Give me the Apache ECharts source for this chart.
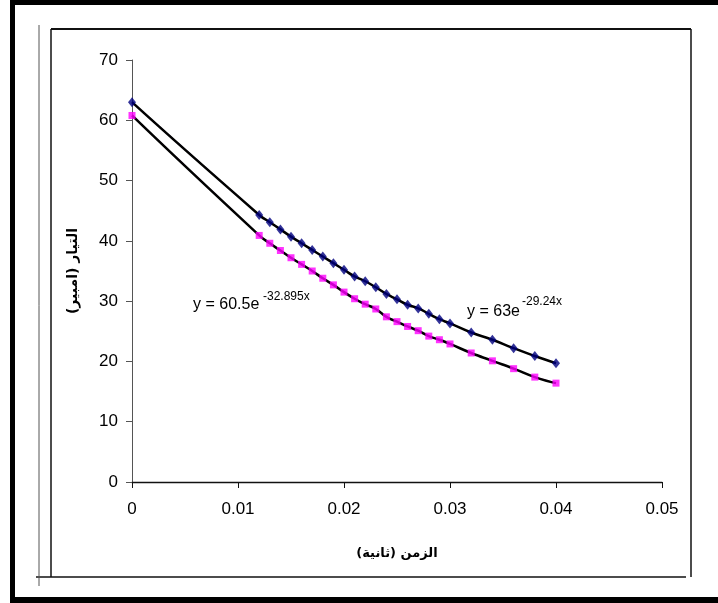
<!DOCTYPE html>
<html>
<head>
<meta charset="utf-8">
<script src="https://cdn.jsdelivr.net/npm/echarts@6/dist/echarts.min.js"></script>
<style>
  html, body { margin: 0; padding: 0; background: #fff; }
  #chart { width: 718px; height: 603px; }
</style>
</head>
<body>
<div id="chart"></div>
<script>
// time (s)
const timeValues = [0, 0.012, 0.013, 0.014, 0.015, 0.016, 0.017, 0.018, 0.019, 0.020,
  0.021, 0.022, 0.023, 0.024, 0.025, 0.026, 0.027, 0.028, 0.029, 0.030,
  0.032, 0.034, 0.036, 0.038, 0.040];
// current (A), diamonds
const currentA = [63.0, 44.3, 43.1, 41.9, 40.7, 39.6, 38.5, 37.4, 36.3, 35.2,
  34.1, 33.3, 32.3, 31.2, 30.3, 29.4, 28.8, 27.9, 27.0, 26.3,
  24.8, 23.6, 22.2, 20.9, 19.7];
// current (A), squares
const currentB = [60.8, 40.9, 39.6, 38.4, 37.2, 36.1, 35.0, 33.8, 32.7, 31.5,
  30.4, 29.5, 28.7, 27.4, 26.6, 25.8, 25.1, 24.2, 23.6, 22.9,
  21.4, 20.1, 18.8, 17.4, 16.4];
const xTicks = [0, 0.01, 0.02, 0.03, 0.04, 0.05];
const yTicks = [0, 10, 20, 30, 40, 50, 60, 70];
const equationA = { main: 'y = 63e', sup: '-29.24x' };
const equationB = { main: 'y = 60.5e', sup: '-32.895x' };

const pairsA = timeValues.map((t, i) => [t, currentA[i]]);
const pairsB = timeValues.map((t, i) => [t, currentB[i]]);

const font = '"Liberation Sans", Arial, sans-serif';
const arabicFont = '"DejaVu Sans", "Liberation Sans", sans-serif';

const chart = echarts.init(document.getElementById('chart'));

const option = {
  animation: false,
  backgroundColor: '#fff',
  grid: { left: 132, right: 56, top: 60, bottom: 121 },
  xAxis: {
    type: 'value',
    min: xTicks[0],
    max: xTicks[xTicks.length - 1],
    interval: 0.01,
    name: 'الزمن (ثانية)',
    nameLocation: 'middle',
    nameGap: 65,
    nameTextStyle: { fontFamily: arabicFont, fontWeight: 'bold', fontSize: 13, color: '#000' },
    axisLine: { lineStyle: { color: '#111', width: 1.3 } },
    axisTick: { show: true, inside: false, length: 6, lineStyle: { color: '#111' } },
    axisLabel: { margin: 19, fontFamily: font, fontSize: 17, color: '#000' },
    splitLine: { show: false }
  },
  yAxis: {
    type: 'value',
    min: yTicks[0],
    max: yTicks[yTicks.length - 1],
    interval: 10,
    name: 'التيار (امبير)',
    nameLocation: 'middle',
    nameGap: 52,
    nameTextStyle: { fontFamily: arabicFont, fontWeight: 'bold', fontSize: 14, color: '#000' },
    axisLine: { show: true, lineStyle: { color: '#555', width: 1 } },
    axisTick: { show: true, length: 6, lineStyle: { color: '#555' } },
    axisLabel: { margin: 14, fontFamily: font, fontSize: 17, color: '#000' },
    splitLine: { show: false }
  },
  series: [
    {
      name: 'lineA',
      type: 'line',
      data: pairsA,
      symbol: 'none',
      lineStyle: { color: '#000080', width: 1 },
      z: 1
    },
    {
      name: 'lineB',
      type: 'line',
      data: pairsB,
      symbol: 'none',
      lineStyle: { color: '#ff00ff', width: 1 },
      z: 1
    },
    // black trend lines through the same points
    {
      name: 'trendA',
      type: 'line',
      data: pairsA,
      smooth: 0.6,
      symbol: 'none',
      lineStyle: { color: '#000', width: 2.5 },
      z: 2
    },
    {
      name: 'trendB',
      type: 'line',
      data: pairsB,
      smooth: 0.6,
      symbol: 'none',
      lineStyle: { color: '#000', width: 2.5 },
      z: 2
    },
    {
      name: 'pointsA',
      type: 'scatter',
      data: pairsA,
      symbol: 'diamond',
      symbolSize: [8, 10],
      itemStyle: { color: '#000080' },
      z: 4
    },
    {
      name: 'pointsB',
      type: 'scatter',
      data: pairsB,
      symbol: 'rect',
      symbolSize: 7,
      itemStyle: { color: '#ff00ff' },
      z: 4
    }
  ],
  graphic: [
    // outer frame (left, top, bottom)
    { type: 'rect', shape: { x: 10, y: 0, width: 5, height: 603 }, style: { fill: '#000' } },
    { type: 'rect', shape: { x: 10, y: 0, width: 708, height: 5 }, style: { fill: '#000' } },
    { type: 'rect', shape: { x: 10, y: 597, width: 708, height: 6 }, style: { fill: '#000' } },
    // inner chart border
    { type: 'line', shape: { x1: 51, y1: 29, x2: 691, y2: 29 }, style: { stroke: '#111', lineWidth: 2 } },
    { type: 'line', shape: { x1: 51, y1: 29, x2: 51, y2: 577 }, style: { stroke: '#111', lineWidth: 1.5 } },
    { type: 'line', shape: { x1: 691, y1: 29, x2: 691, y2: 577 }, style: { stroke: '#111', lineWidth: 1.5 } },
    { type: 'line', shape: { x1: 36, y1: 577, x2: 686, y2: 577 }, style: { stroke: '#111', lineWidth: 1.5 } },
    { type: 'line', shape: { x1: 39, y1: 25, x2: 39, y2: 586 }, style: { stroke: '#555', lineWidth: 1 } },
    // trendline equations
    { type: 'text', x: 193, y: 305, style: { text: equationB.main, font: '16px ' + font, fill: '#000', verticalAlign: 'middle' } },
    { type: 'text', x: 263, y: 297, style: { text: equationB.sup, font: '12px ' + font, fill: '#000', verticalAlign: 'middle' } },
    { type: 'text', x: 467, y: 312, style: { text: equationA.main, font: '16px ' + font, fill: '#000', verticalAlign: 'middle' } },
    { type: 'text', x: 522, y: 302, style: { text: equationA.sup, font: '12px ' + font, fill: '#000', verticalAlign: 'middle' } }
  ]
};

chart.setOption(option);
</script>
</body>
</html>
